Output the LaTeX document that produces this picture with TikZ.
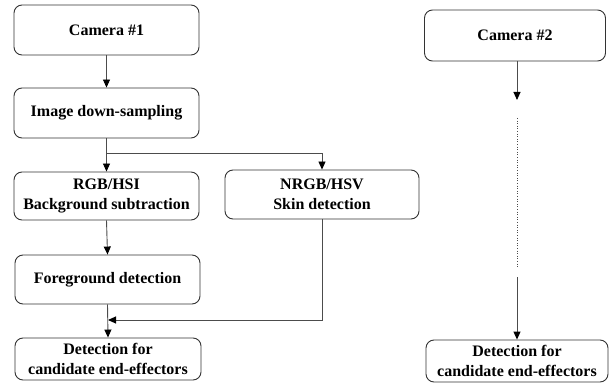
\documentclass[tikz,border=0pt]{standalone}
\usepackage{fontspec}
\setmainfont{Liberation Serif}
\usetikzlibrary{arrows.meta,positioning}
\begin{document}
\begin{tikzpicture}[x=1pt,y=-1pt,
  box/.style={draw=black!80, line width=0.9pt, rounded corners=8pt, align=center,
    font=\fontsize{16}{20}\selectfont\bfseries, inner sep=0pt},
  conn/.style={draw=black!70, line width=0.9pt},
  arr/.style={conn, -{Triangle[length=8pt,width=7pt,fill=black,color=black]}},
]
\useasboundingbox (0,0) rectangle (613,390);
\node[box, minimum width=185pt, minimum height=50pt] (cam1) at (106.5,30) {Camera \#1};
\node[box, minimum width=185pt, minimum height=50pt] (img) at (106.5,113) {Image down-sampling};
\node[box, minimum width=185pt, minimum height=48pt] (rgb) at (106.5,196) {RGB/HSI\\Background subtraction};
\node[box, minimum width=194pt, minimum height=49pt] (nrgb) at (322,194.5) {NRGB/HSV\\Skin detection};
\node[box, minimum width=185pt, minimum height=49pt] (fg) at (107.5,279.5) {Foreground detection};
\node[box, minimum width=186pt, minimum height=42pt] (det1) at (108,359) {Detection for\\candidate end-effectors};
\node[box, minimum width=181pt, minimum height=51pt] (cam2) at (515,35.5) {Camera \#2};
\node[box, minimum width=182pt, minimum height=42pt] (det2) at (517,361) {Detection for\\candidate end-effectors};

\coordinate (split) at (106.5,153);
\coordinate (nturn) at (322,153);
\coordinate (mturn) at (322,320);
\coordinate (mjoin) at (108,320);
\coordinate (c2end) at (517,100);
\coordinate (dotA) at (517,118);
\coordinate (dotB) at (517,268);
\coordinate (c2start) at (517,277);

\draw[arr] (cam1.south) -- (img.north);
\draw[conn] (img.south) -- (split);
\draw[arr] (split) -- (rgb.north);
\draw[arr] (split) -- (nturn) -- (nrgb.north);
\draw[arr] (rgb.south) -- (fg.north);
\draw[arr] (fg.south) -- (det1.north);
\draw[arr] (nrgb.south) -- (mturn) -- (mjoin);
\draw[arr] (cam2.south -| c2end) -- (c2end);
\draw[conn, line width=0.6pt, dotted] (dotA) -- (dotB);
\draw[arr] (c2start) -- (det2.north -| c2start);
\end{tikzpicture}
\end{document}
